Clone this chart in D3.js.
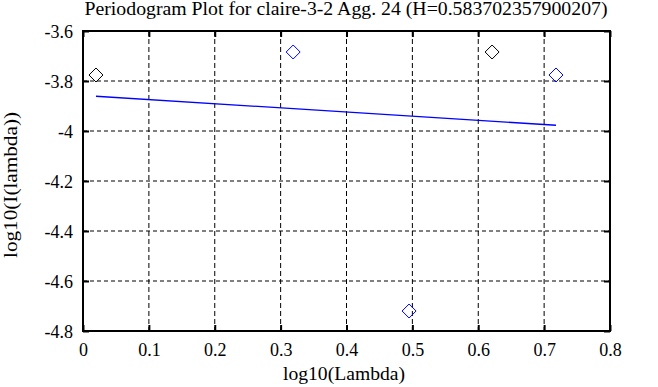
<!DOCTYPE html>
<html><head><meta charset="utf-8">
<script src="https://cdn.jsdelivr.net/npm/d3@7/dist/d3.min.js"></script>
<style>body{margin:0;background:#fff}svg{display:block}</style>
</head><body>
<svg id="c" width="658" height="387"></svg>
<script>
const title = "Periodogram Plot for claire-3-2 Agg. 24 (H=0.583702357900207)";
const xLabel = "log10(Lambda)";
const yLabel = "log10(I(lambda))";
const xTicks = [0, 0.1, 0.2, 0.3, 0.4, 0.5, 0.6, 0.7, 0.8];
const yTicks = [-3.6, -3.8, -4, -4.2, -4.4, -4.6, -4.8];
const pointX = [0.0197, 0.319, 0.495, 0.621, 0.718];
const pointY = [-3.776, -3.684, -4.72, -3.684, -3.776];
const pointColor = ["#000000", "#0000ff", "#0000ff", "#000000", "#0000ff"];
const fitX = [0.0197, 0.718];
const fitY = [-3.861, -3.977];

const svg = d3.select("#c");
const L = 83, R = 610, T = 31, B = 331;
const x = d3.scaleLinear().domain([0, 0.8]).range([L, R]);
const y = d3.scaleLinear().domain([-4.8, -3.6]).range([B, T]);
const font = "'Liberation Serif', 'Times New Roman', serif";

// grid
const g = svg.append("g");
g.selectAll("line.vx").data(xTicks.slice(1, -1)).enter().append("line")
  .attr("x1", d => x(d)).attr("x2", d => x(d)).attr("y1", T).attr("y2", B)
  .attr("stroke", "#000").attr("stroke-width", 1).attr("stroke-dasharray", "5,3");
g.selectAll("line.hy").data(yTicks.slice(1, -1)).enter().append("line")
  .attr("y1", d => y(d)).attr("y2", d => y(d)).attr("x1", L).attr("x2", R)
  .attr("stroke", "#000").attr("stroke-width", 1).attr("stroke-dasharray", "4,3");

// axes with inward ticks
const tl = 6;
const axB = svg.append("g").attr("transform", `translate(0,${B})`)
  .call(d3.axisBottom(x).tickValues(xTicks).tickSize(-tl).tickPadding(12).tickFormat(d3.format("")));
const axT = svg.append("g").attr("transform", `translate(0,${T})`)
  .call(d3.axisTop(x).tickValues(xTicks).tickSize(-tl).tickFormat(""));
const axL = svg.append("g").attr("transform", `translate(${L},0)`)
  .call(d3.axisLeft(y).tickValues(yTicks).tickSize(-tl).tickPadding(10).tickFormat(d3.format("")));
const axR = svg.append("g").attr("transform", `translate(${R},0)`)
  .call(d3.axisRight(y).tickValues(yTicks).tickSize(-tl).tickFormat(""));
[axB, axT, axL, axR].forEach(a => {
  a.attr("font-family", font);
  a.select(".domain").remove();
  a.selectAll(".tick line").attr("stroke", "#000").attr("stroke-width", 2);
  a.selectAll("text").attr("font-family", font).attr("font-size", 18).attr("fill", "#000");
});
axL.selectAll("text").attr("dy", "0.35em").text(d => d3.format("")(d).replace("−", "-"));
axB.selectAll("text").attr("dy", "0.71em");

// frame
svg.append("rect").attr("x", L).attr("y", T).attr("width", R - L).attr("height", B - T)
  .attr("fill", "none").attr("stroke", "#000").attr("stroke-width", 2);

// fit line
const fit = fitX.map((v, i) => [v, fitY[i]]);
svg.append("path").datum(fit)
  .attr("d", d3.line().x(d => x(d[0])).y(d => y(d[1])))
  .attr("stroke", "#0000ff").attr("stroke-width", 1.3).attr("fill", "none");

// diamonds
const pts = pointX.map((v, i) => ({x: v, y: pointY[i], c: pointColor[i]}));
svg.selectAll("path.pt").data(pts).enter().append("path")
  .attr("d", d => {const cx = x(d.x), cy = y(d.y), s = 7;
    return `M${cx},${cy - s}L${cx + s},${cy}L${cx},${cy + s}L${cx - s},${cy}Z`;})
  .attr("fill", "none").attr("stroke", d => d.c).attr("stroke-width", 1);

// titles
svg.append("text").attr("x", 346).attr("y", 15).attr("text-anchor", "middle")
  .attr("font-family", font).attr("font-size", 18)
  .attr("textLength", 523).attr("lengthAdjust", "spacingAndGlyphs").text(title);
svg.append("text").attr("x", 344).attr("y", 380).attr("text-anchor", "middle")
  .attr("font-family", font).attr("font-size", 18)
  .attr("textLength", 122).attr("lengthAdjust", "spacingAndGlyphs").text(xLabel);
svg.append("text").attr("transform", `translate(17,185) rotate(-90)`).attr("text-anchor", "middle")
  .attr("font-family", font).attr("font-size", 18)
  .attr("textLength", 146).attr("lengthAdjust", "spacingAndGlyphs").text(yLabel);
</script>
</body></html>
